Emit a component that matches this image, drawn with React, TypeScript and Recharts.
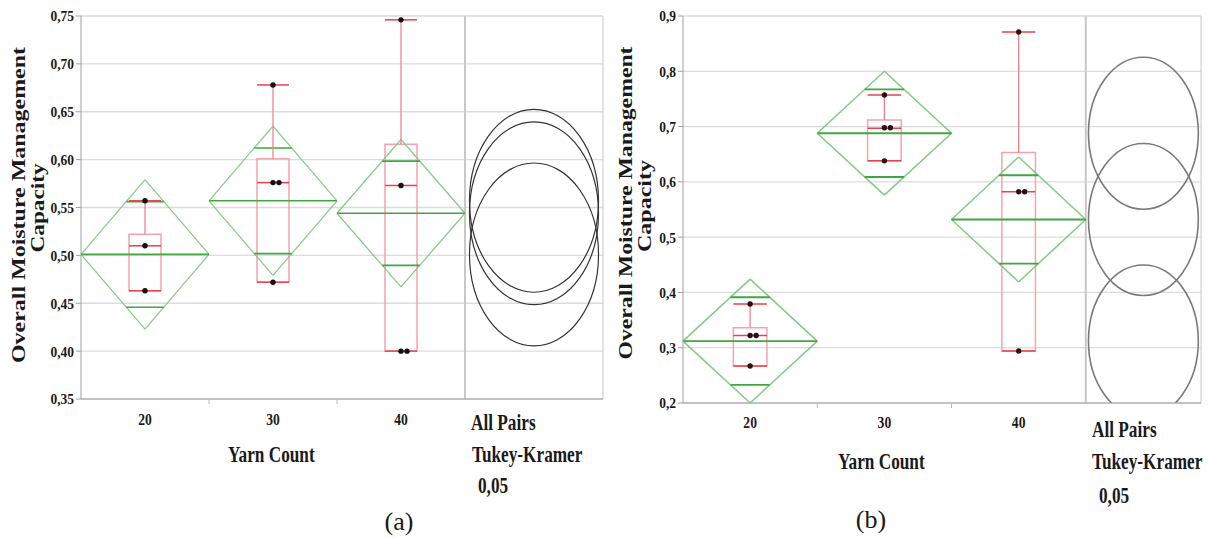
import React from "react";
import {
  CartesianGrid,
  ComposedChart,
  ReferenceArea,
  ReferenceLine,
  Scatter,
  XAxis,
  YAxis,
} from "recharts";

const categories = ["20", "30", "40"];

// panel (a)
const aYTicks = [0.35, 0.4, 0.45, 0.5, 0.55, 0.6, 0.65, 0.7, 0.75];
const aMean = [0.501, 0.557, 0.544];
const aCiHalf = [0.078, 0.078, 0.077];
const aMin = [0.463, 0.472, 0.4];
const aQ1 = [0.463, 0.472, 0.4];
const aMedian = [0.51, 0.576, 0.573];
const aQ3 = [0.522, 0.601, 0.616];
const aMax = [0.557, 0.678, 0.746];
const aPoints = [
  [0.557, 0.51, 0.463],
  [0.678, 0.576, 0.576, 0.472],
  [0.746, 0.573, 0.4, 0.4],
];
const aCircleRadius = 0.0955;

// panel (b)
const bYTicks = [0.2, 0.3, 0.4, 0.5, 0.6, 0.7, 0.8, 0.9];
const bMean = [0.312, 0.688, 0.532];
const bCiHalf = [0.112, 0.112, 0.113];
const bMin = [0.267, 0.638, 0.294];
const bQ1 = [0.267, 0.638, 0.294];
const bMedian = [0.322, 0.697, 0.582];
const bQ3 = [0.336, 0.712, 0.653];
const bMax = [0.379, 0.757, 0.871];
const bPoints = [
  [0.379, 0.322, 0.322, 0.267],
  [0.757, 0.698, 0.698, 0.638],
  [0.871, 0.582, 0.582, 0.294],
];
const bCircleRadius = 0.1375;

const SERIF = '"Liberation Serif", "Times New Roman", serif';
const BOX_HALF = 0.125;
const OVERLAP_HALF = 0.5 * (1 - Math.SQRT1_2);

const DIAMOND = "#80cc80";
const MEAN_LINE = "#40a640";
const BOX_EDGE = "#f4a3ad";
const RED = "#e8404f";
const WHISKER = "#f07a88";

type Seg = { x1: number; y1: number; x2: number; y2: number; stroke: string; w: number };

function XTick(props: any) {
  const { x, y, payload, shift } = props;
  const v = payload.value;
  if (Number.isInteger(v)) {
    return <line x1={x} x2={x} y1={y - 8} y2={y - 3} stroke="#b8b8b8" />;
  }
  return (
    <g transform={`translate(${x},${y + shift}) scale(0.85,1)`}>
      <text x={0} y={0} textAnchor="middle" fontFamily={SERIF} fontWeight="bold" fontSize={16} fill="#1a1a1a">
        {categories[Math.floor(v)]}
      </text>
    </g>
  );
}

function YTick(props: any) {
  const { x, y, payload, digits } = props;
  return (
    <g transform={`translate(${x},${y}) scale(0.9,1)`}>
      <text x={0} y={0} dy="0.36em" textAnchor="end" fontFamily={SERIF} fontWeight="bold" fontSize={15} fill="#1a1a1a">
        {payload.value.toFixed(digits).replace(".", ",")}
      </text>
    </g>
  );
}

function Panel(p: any) {
  const dots = p.points.flatMap((vals: number[], i: number) =>
    vals.map((v, j) => ({
      x: i + 0.5,
      y: v,
      k: vals.slice(0, j).filter((u) => u === v).length,
    }))
  );

  const segs: Seg[] = [];
  categories.forEach((_, i) => {
    const c = i + 0.5;
    const m = p.mean[i];
    const ci = p.ci[i];
    const lw = p.lineWidth;
    // means diamond
    segs.push({ x1: i, y1: m, x2: c, y2: m + ci, stroke: DIAMOND, w: lw });
    segs.push({ x1: c, y1: m + ci, x2: i + 1, y2: m, stroke: DIAMOND, w: lw });
    segs.push({ x1: i + 1, y1: m, x2: c, y2: m - ci, stroke: DIAMOND, w: lw });
    segs.push({ x1: c, y1: m - ci, x2: i, y2: m, stroke: DIAMOND, w: lw });
    segs.push({ x1: i, y1: m, x2: i + 1, y2: m, stroke: MEAN_LINE, w: lw + 0.4 });
    const off = ci * Math.SQRT1_2;
    segs.push({ x1: c - OVERLAP_HALF, y1: m + off, x2: c + OVERLAP_HALF, y2: m + off, stroke: MEAN_LINE, w: lw + 0.4 });
    segs.push({ x1: c - OVERLAP_HALF, y1: m - off, x2: c + OVERLAP_HALF, y2: m - off, stroke: MEAN_LINE, w: lw + 0.4 });
    // box plot
    if (p.max[i] > p.q3[i]) {
      segs.push({ x1: c, y1: p.q3[i], x2: c, y2: p.max[i], stroke: WHISKER, w: 1.2 });
    }
    if (p.min[i] < p.q1[i]) {
      segs.push({ x1: c, y1: p.q1[i], x2: c, y2: p.min[i], stroke: WHISKER, w: 1.2 });
    }
    segs.push({ x1: c - BOX_HALF, y1: p.max[i], x2: c + BOX_HALF, y2: p.max[i], stroke: RED, w: 1.5 });
    segs.push({ x1: c - BOX_HALF, y1: p.min[i], x2: c + BOX_HALF, y2: p.min[i], stroke: RED, w: 1.5 });
    segs.push({ x1: c - BOX_HALF, y1: p.median[i], x2: c + BOX_HALF, y2: p.median[i], stroke: RED, w: 1.5 });
  });

  const ellipse = (props: any) => (
    <ellipse
      cx={props.x + props.width / 2}
      cy={props.y + props.height / 2}
      rx={props.width / 2}
      ry={props.height / 2}
      fill="none"
      stroke={p.ellipseStroke}
      strokeWidth={p.ellipseWidth}
      clipPath={props.clipPath}
    />
  );

  const dot = (props: any) => (
    <circle cx={props.cx + props.payload.k * 6} cy={props.cy} r={2.7} fill={p.dotFill} />
  );

  const lo = p.ticks[0];
  const hi = p.ticks[p.ticks.length - 1];

  return (
    <div style={{ position: "absolute", left: p.left, top: 0 }}>
      <ComposedChart width={p.width} height={538} margin={p.margin}>
        <CartesianGrid vertical={false} stroke="#dcdcdc" strokeWidth={1.3} />
        <XAxis
          type="number"
          dataKey="x"
          domain={[0, p.xMax]}
          ticks={[0.5, 1, 1.5, 2, 2.5]}
          interval={0}
          height={30}
          tickSize={6}
          tickLine={false}
          axisLine={{ stroke: "#a0a0a0" }}
          tick={(t: any) => <XTick {...t} shift={p.tickShift} />}
          allowDataOverflow
        />
        <YAxis
          type="number"
          dataKey="y"
          domain={[lo, hi]}
          ticks={p.ticks}
          interval={0}
          width={p.yAxisWidth}
          tickSize={5}
          tickMargin={2}
          tickLine={{ stroke: "#a0a0a0" }}
          axisLine={{ stroke: "#a0a0a0" }}
          tick={(t: any) => <YTick {...t} digits={p.digits} />}
          allowDataOverflow
        />
        <ReferenceLine x={3} stroke="#c8c8c8" strokeWidth={2} ifOverflow="visible" />
        <ReferenceLine x={p.xMax} stroke="#c8c8c8" ifOverflow="visible" />
        {p.mean.map((m: number, i: number) => (
          <ReferenceArea
            key={`c${i}`}
            x1={3 + p.circlePad}
            x2={p.xMax - p.circlePad}
            y1={m - p.circleRadius}
            y2={m + p.circleRadius}
            ifOverflow="hidden"
            shape={ellipse}
          />
        ))}
        {categories.map((_, i) => (
          <ReferenceArea
            key={`b${i}`}
            x1={i + 0.5 - BOX_HALF}
            x2={i + 0.5 + BOX_HALF}
            y1={p.q1[i]}
            y2={p.q3[i]}
            fill="none"
            fillOpacity={0}
            stroke={BOX_EDGE}
            strokeWidth={1.5}
            ifOverflow="visible"
          />
        ))}
        {segs.map((s, j) => (
          <ReferenceLine
            key={`s${j}`}
            segment={[
              { x: s.x1, y: s.y1 },
              { x: s.x2, y: s.y2 },
            ]}
            stroke={s.stroke}
            strokeWidth={s.w}
            ifOverflow="visible"
          />
        ))}
        <Scatter data={dots} isAnimationActive={false} shape={dot} />
      </ComposedChart>
    </div>
  );
}

function Title({ x, y, len, children }: any) {
  return (
    <text
      transform={`translate(${x},${y}) rotate(-90)`}
      textAnchor="middle"
      fontFamily={SERIF}
      fontWeight="bold"
      fontSize={19}
      fill="#1a1a1a"
      textLength={len}
      lengthAdjust="spacingAndGlyphs"
    >
      {children}
    </text>
  );
}

// condensed bold caption: the source text is narrow, so squeeze it horizontally
function Caption({ x, y, children }: any) {
  return (
    <g transform={`translate(${x},${y}) scale(0.75,1)`}>
      <text x={0} y={0} fontFamily={SERIF} fontWeight="bold" fontSize={23} fill="#1a1a1a">
        {children}
      </text>
    </g>
  );
}

export default function App() {
  return (
    <div
      style={{
        position: "absolute",
        left: 0,
        top: 0,
        width: 1215,
        height: 538,
        background: "#fff",
        overflow: "hidden",
      }}
    >
      <Panel
        left={0}
        width={610}
        margin={{ top: 16, right: 7, bottom: 109, left: 0 }}
        yAxisWidth={81}
        xMax={3 + 138 / 128}
        circlePad={0.035}
        ticks={aYTicks}
        digits={2}
        mean={aMean}
        ci={aCiHalf}
        min={aMin}
        q1={aQ1}
        median={aMedian}
        q3={aQ3}
        max={aMax}
        points={aPoints}
        circleRadius={aCircleRadius}
        ellipseStroke="#333"
        ellipseWidth={1.2}
        dotFill="#111"
        lineWidth={1.2}
        tickShift={18}
      />
      <Panel
        left={600}
        width={615}
        margin={{ top: 16, right: 14, bottom: 105, left: 0 }}
        yAxisWidth={83}
        xMax={3 + 115 / 134}
        circlePad={0.02}
        ticks={bYTicks}
        digits={1}
        mean={bMean}
        ci={bCiHalf}
        min={bMin}
        q1={bQ1}
        median={bMedian}
        q3={bQ3}
        max={bMax}
        points={bPoints}
        circleRadius={bCircleRadius}
        ellipseStroke="#7a7a7a"
        ellipseWidth={1.6}
        dotFill="#2b0d12"
        lineWidth={1.5}
        tickShift={17}
      />
      <svg
        width={1215}
        height={538}
        style={{ position: "absolute", left: 0, top: 0, pointerEvents: "none" }}
      >
        <Title x={25} y={205} len={316}>Overall Moisture Management</Title>
        <Title x={44} y={208} len={89}>Capacity</Title>
        <Caption x={228} y={462}>Yarn Count</Caption>
        <Caption x={471} y={430}>All Pairs</Caption>
        <Caption x={472} y={462}>Tukey-Kramer</Caption>
        <Caption x={478} y={493}>0,05</Caption>
        <text x={399} y={530} textAnchor="middle" fontFamily={SERIF} fontSize={26} fill="#1a1a1a">
          (a)
        </text>

        <Title x={632} y={203} len={313}>Overall Moisture Management</Title>
        <Title x={651} y={206} len={92}>Capacity</Title>
        <Caption x={838} y={469}>Yarn Count</Caption>
        <Caption x={1092} y={437}>All Pairs</Caption>
        <Caption x={1092} y={469}>Tukey-Kramer</Caption>
        <Caption x={1099} y={503}>0,05</Caption>
        <text x={871} y={528} textAnchor="middle" fontFamily={SERIF} fontSize={26} fill="#1a1a1a">
          (b)
        </text>
      </svg>
    </div>
  );
}
